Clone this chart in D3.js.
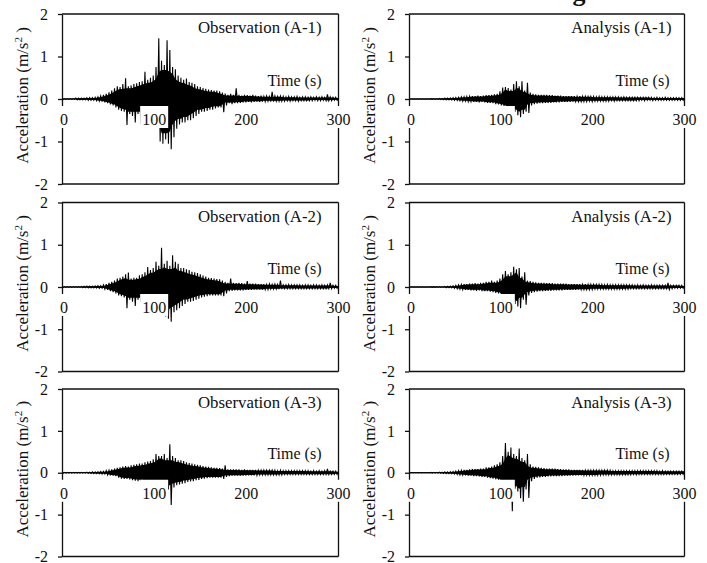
<!DOCTYPE html>
<html><head><meta charset="utf-8">
<script src="https://cdn.jsdelivr.net/npm/d3@7"></script>
<style>
html,body{margin:0;padding:0;background:#fff;}
svg{display:block;font-family:"Liberation Serif","Times New Roman",serif;}
</style>
</head><body>
<svg id="chart" width="707" height="563"></svg>
<script>
// Envelope peaks (m/s^2) read from the records, one sample every 3 s from 0 to 300 s
const timeStep = 3;

const obsA1Upper = [
 0.01,0.01,0.01,0.01,0.01,0.02,0.02,0.02,0.02,0.03,
 0.03,0.03,0.04,0.05,0.07,0.1,0.12,0.16,0.2,0.25,
 0.3,0.28,0.35,0.49,0.3,0.32,0.35,0.37,0.4,0.42,
 0.64,0.45,0.5,0.55,0.75,1.43,0.9,0.8,1.38,1.15,
 0.75,0.7,0.55,0.5,0.45,0.48,0.4,0.38,0.35,0.3,
 0.28,0.26,0.24,0.22,0.21,0.2,0.2,0.18,0.15,0.13,
 0.1,0.12,0.1,0.25,0.1,0.08,0.1,0.09,0.08,0.1,
 0.08,0.07,0.08,0.06,0.07,0.06,0.17,0.07,0.06,0.07,
 0.06,0.05,0.06,0.05,0.05,0.06,0.04,0.05,0.05,0.04,
 0.05,0.04,0.05,0.04,0.05,0.04,0.11,0.05,0.04,0.04,
 0.03];
const obsA1Lower = [
 -0.01,-0.01,-0.01,-0.01,-0.01,-0.02,-0.02,-0.02,-0.02,-0.03,
 -0.03,-0.03,-0.04,-0.05,-0.06,-0.08,-0.1,-0.13,-0.15,-0.2,
 -0.25,-0.28,-0.3,-0.61,-0.35,-0.4,-0.55,-0.35,-0.6,-0.4,
 -0.35,-0.45,-0.45,-0.5,-0.6,-1.0,-1.05,-0.95,-1.05,-1.18,
 -0.9,-0.7,-0.6,-0.55,-0.55,-0.5,-0.5,-0.45,-0.4,-0.35,
 -0.3,-0.3,-0.28,-0.25,-0.25,-0.22,-0.2,-0.2,-0.31,-0.15,
 -0.1,-0.12,-0.1,-0.1,-0.09,-0.08,-0.08,-0.07,-0.08,-0.07,
 -0.06,-0.07,-0.06,-0.06,-0.05,-0.06,-0.06,-0.05,-0.05,-0.05,
 -0.05,-0.04,-0.05,-0.04,-0.04,-0.05,-0.04,-0.04,-0.04,-0.04,
 -0.04,-0.03,-0.04,-0.04,-0.03,-0.04,-0.04,-0.04,-0.03,-0.03,
 -0.02];

const anaA1Upper = [
 0.005,0.005,0.005,0.005,0.005,0.005,0.005,0.005,0.008,0.01,
 0.01,0.012,0.015,0.02,0.02,0.025,0.03,0.035,0.04,0.05,
 0.05,0.06,0.06,0.07,0.07,0.08,0.07,0.08,0.09,0.09,
 0.1,0.11,0.12,0.18,0.27,0.28,0.26,0.22,0.35,0.42,
 0.3,0.42,0.2,0.38,0.15,0.12,0.11,0.1,0.1,0.1,
 0.1,0.09,0.09,0.08,0.08,0.08,0.07,0.07,0.07,0.07,
 0.07,0.06,0.07,0.06,0.06,0.06,0.06,0.06,0.05,0.06,
 0.05,0.05,0.05,0.05,0.05,0.05,0.05,0.04,0.05,0.04,
 0.04,0.04,0.04,0.04,0.04,0.04,0.04,0.04,0.04,0.03,
 0.04,0.03,0.03,0.04,0.03,0.03,0.03,0.03,0.03,0.03,
 0.03];
const anaA1Lower = [
 -0.005,-0.005,-0.005,-0.005,-0.005,-0.005,-0.005,-0.005,-0.008,-0.01,
 -0.01,-0.012,-0.015,-0.02,-0.02,-0.025,-0.03,-0.035,-0.04,-0.05,
 -0.05,-0.06,-0.06,-0.07,-0.07,-0.08,-0.07,-0.08,-0.09,-0.09,
 -0.1,-0.12,-0.13,-0.15,-0.18,-0.2,-0.22,-0.25,-0.3,-0.38,
 -0.43,-0.35,-0.3,-0.33,-0.15,-0.12,-0.11,-0.1,-0.1,-0.09,
 -0.09,-0.09,-0.08,-0.08,-0.08,-0.07,-0.07,-0.07,-0.07,-0.06,
 -0.06,-0.06,-0.06,-0.06,-0.06,-0.05,-0.06,-0.05,-0.05,-0.05,
 -0.05,-0.05,-0.05,-0.04,-0.05,-0.04,-0.04,-0.04,-0.04,-0.04,
 -0.04,-0.04,-0.04,-0.04,-0.03,-0.04,-0.03,-0.03,-0.04,-0.03,
 -0.03,-0.03,-0.03,-0.03,-0.03,-0.03,-0.03,-0.03,-0.03,-0.03,
 -0.02];

const obsA2Upper = [
 0.01,0.01,0.01,0.01,0.01,0.01,0.01,0.015,0.015,0.02,
 0.02,0.02,0.025,0.03,0.03,0.05,0.07,0.1,0.12,0.15,
 0.2,0.22,0.25,0.3,0.34,0.2,0.22,0.22,0.28,0.3,
 0.35,0.47,0.4,0.45,0.6,0.5,0.93,0.55,0.62,0.5,
 0.75,0.6,0.55,0.45,0.45,0.42,0.4,0.36,0.35,0.33,
 0.3,0.27,0.25,0.22,0.21,0.2,0.19,0.18,0.15,0.12,
 0.1,0.2,0.1,0.09,0.1,0.09,0.08,0.14,0.08,0.08,
 0.08,0.07,0.07,0.07,0.06,0.07,0.06,0.07,0.06,0.15,
 0.05,0.05,0.06,0.05,0.05,0.05,0.05,0.04,0.05,0.05,
 0.04,0.05,0.05,0.04,0.05,0.04,0.05,0.1,0.04,0.04,
 0.03];
const obsA2Lower = [
 -0.01,-0.01,-0.01,-0.01,-0.01,-0.01,-0.01,-0.015,-0.015,-0.02,
 -0.02,-0.02,-0.025,-0.03,-0.03,-0.05,-0.07,-0.1,-0.12,-0.15,
 -0.2,-0.22,-0.25,-0.5,-0.3,-0.35,-0.45,-0.3,-0.35,-0.33,
 -0.35,-0.38,-0.4,-0.45,-0.5,-0.55,-0.6,-0.7,-0.75,-0.82,
 -0.6,-0.55,-0.5,-0.45,-0.4,-0.35,-0.35,-0.33,-0.3,-0.28,
 -0.25,-0.23,-0.22,-0.2,-0.2,-0.2,-0.2,-0.2,-0.22,-0.15,
 -0.1,-0.09,-0.08,-0.08,-0.08,-0.08,-0.07,-0.07,-0.07,-0.06,
 -0.06,-0.06,-0.06,-0.06,-0.06,-0.05,-0.05,-0.05,-0.05,-0.05,
 -0.04,-0.04,-0.04,-0.04,-0.04,-0.04,-0.04,-0.04,-0.04,-0.04,
 -0.04,-0.04,-0.04,-0.04,-0.04,-0.04,-0.04,-0.04,-0.03,-0.03,
 -0.03];

const anaA2Upper = [
 0.005,0.005,0.005,0.005,0.005,0.005,0.005,0.005,0.008,0.008,
 0.01,0.01,0.01,0.015,0.015,0.02,0.03,0.04,0.05,0.06,
 0.07,0.07,0.08,0.08,0.09,0.08,0.1,0.1,0.12,0.12,
 0.15,0.12,0.15,0.2,0.3,0.38,0.3,0.35,0.48,0.42,
 0.45,0.25,0.35,0.15,0.14,0.12,0.11,0.1,0.1,0.1,
 0.09,0.09,0.09,0.08,0.08,0.08,0.08,0.08,0.07,0.07,
 0.07,0.07,0.07,0.06,0.07,0.06,0.06,0.06,0.06,0.06,
 0.06,0.05,0.06,0.05,0.05,0.05,0.05,0.05,0.05,0.05,
 0.05,0.05,0.04,0.05,0.04,0.05,0.04,0.04,0.05,0.04,
 0.04,0.04,0.04,0.04,0.1,0.04,0.04,0.04,0.04,0.04,
 0.03];
const anaA2Lower = [
 -0.005,-0.005,-0.005,-0.005,-0.005,-0.005,-0.005,-0.005,-0.008,-0.008,
 -0.01,-0.01,-0.01,-0.015,-0.015,-0.02,-0.03,-0.04,-0.05,-0.06,
 -0.07,-0.07,-0.08,-0.08,-0.09,-0.08,-0.1,-0.1,-0.1,-0.11,
 -0.12,-0.14,-0.15,-0.2,-0.22,-0.3,-0.35,-0.3,-0.4,-0.46,
 -0.5,-0.3,-0.42,-0.2,-0.14,-0.12,-0.11,-0.1,-0.1,-0.09,
 -0.09,-0.09,-0.08,-0.08,-0.08,-0.08,-0.07,-0.07,-0.07,-0.07,
 -0.07,-0.06,-0.06,-0.06,-0.06,-0.06,-0.06,-0.05,-0.05,-0.05,
 -0.05,-0.05,-0.05,-0.05,-0.05,-0.05,-0.05,-0.05,-0.05,-0.05,
 -0.04,-0.04,-0.04,-0.04,-0.04,-0.04,-0.04,-0.04,-0.04,-0.04,
 -0.04,-0.04,-0.04,-0.04,-0.06,-0.04,-0.03,-0.03,-0.03,-0.03,
 -0.03];

const obsA3Upper = [
 0.01,0.01,0.01,0.01,0.01,0.01,0.01,0.01,0.01,0.015,
 0.015,0.02,0.02,0.025,0.03,0.03,0.05,0.06,0.08,0.1,
 0.12,0.13,0.15,0.16,0.15,0.18,0.19,0.2,0.22,0.22,
 0.25,0.27,0.28,0.32,0.45,0.4,0.4,0.45,0.35,0.68,
 0.4,0.35,0.3,0.3,0.28,0.25,0.23,0.22,0.2,0.19,
 0.18,0.16,0.15,0.14,0.13,0.12,0.12,0.11,0.1,0.18,
 0.08,0.08,0.08,0.08,0.08,0.07,0.08,0.07,0.07,0.07,
 0.07,0.06,0.06,0.06,0.06,0.06,0.06,0.06,0.05,0.06,
 0.05,0.05,0.05,0.05,0.05,0.05,0.05,0.05,0.05,0.05,
 0.04,0.05,0.04,0.05,0.04,0.05,0.09,0.04,0.04,0.04,
 0.03];
const obsA3Lower = [
 -0.01,-0.01,-0.01,-0.01,-0.01,-0.01,-0.01,-0.01,-0.01,-0.015,
 -0.015,-0.02,-0.02,-0.025,-0.03,-0.03,-0.05,-0.06,-0.07,-0.08,
 -0.12,-0.14,-0.15,-0.15,-0.16,-0.18,-0.19,-0.2,-0.2,-0.22,
 -0.25,-0.26,-0.28,-0.3,-0.32,-0.32,-0.3,-0.35,-0.4,-0.77,
 -0.35,-0.3,-0.28,-0.26,-0.25,-0.22,-0.21,-0.2,-0.18,-0.17,
 -0.15,-0.14,-0.13,-0.12,-0.12,-0.12,-0.12,-0.12,-0.15,-0.1,
 -0.08,-0.07,-0.07,-0.07,-0.07,-0.07,-0.07,-0.06,-0.06,-0.06,
 -0.06,-0.05,-0.05,-0.05,-0.05,-0.05,-0.05,-0.05,-0.05,-0.05,
 -0.04,-0.04,-0.04,-0.04,-0.04,-0.04,-0.04,-0.04,-0.04,-0.04,
 -0.04,-0.04,-0.04,-0.04,-0.04,-0.04,-0.04,-0.04,-0.04,-0.04,
 -0.03];

const anaA3Upper = [
 0.005,0.005,0.005,0.005,0.005,0.005,0.005,0.005,0.008,0.01,
 0.01,0.012,0.015,0.02,0.02,0.025,0.03,0.04,0.05,0.055,
 0.07,0.07,0.08,0.09,0.09,0.09,0.1,0.1,0.13,0.13,
 0.15,0.18,0.2,0.25,0.4,0.71,0.5,0.6,0.45,0.4,
 0.58,0.35,0.3,0.45,0.2,0.15,0.14,0.13,0.12,0.11,
 0.1,0.1,0.1,0.1,0.09,0.09,0.08,0.08,0.08,0.07,
 0.07,0.07,0.07,0.07,0.06,0.06,0.06,0.06,0.06,0.06,
 0.06,0.06,0.06,0.06,0.05,0.05,0.05,0.05,0.05,0.05,
 0.05,0.05,0.05,0.05,0.05,0.05,0.05,0.05,0.05,0.05,
 0.05,0.04,0.05,0.04,0.04,0.04,0.04,0.04,0.04,0.04,
 0.04];
const anaA3Lower = [
 -0.005,-0.005,-0.005,-0.005,-0.005,-0.005,-0.005,-0.005,-0.008,-0.01,
 -0.01,-0.012,-0.015,-0.02,-0.02,-0.025,-0.03,-0.04,-0.05,-0.055,
 -0.06,-0.07,-0.07,-0.08,-0.08,-0.09,-0.1,-0.1,-0.12,-0.13,
 -0.14,-0.16,-0.18,-0.25,-0.25,-0.28,-0.3,-0.92,-0.38,-0.45,
 -0.61,-0.69,-0.4,-0.6,-0.2,-0.15,-0.12,-0.11,-0.1,-0.1,
 -0.09,-0.09,-0.08,-0.08,-0.08,-0.08,-0.07,-0.07,-0.07,-0.07,
 -0.06,-0.06,-0.06,-0.06,-0.06,-0.06,-0.06,-0.06,-0.06,-0.06,
 -0.05,-0.05,-0.05,-0.05,-0.05,-0.05,-0.05,-0.05,-0.05,-0.05,
 -0.05,-0.04,-0.05,-0.04,-0.04,-0.04,-0.04,-0.04,-0.04,-0.04,
 -0.04,-0.04,-0.04,-0.04,-0.04,-0.04,-0.04,-0.04,-0.04,-0.04,
 -0.03];

const xTickValues = [0, 100, 200, 300];
const yTickValues = [2, 1, 0, -1, -2];
const panelTitles = ["Observation (A-1)", "Analysis (A-1)",
                     "Observation (A-2)", "Analysis (A-2)",
                     "Observation (A-3)", "Analysis (A-3)"];
const xAxisTitle = "Time (s)";

const series = [
  {upper: obsA1Upper, lower: obsA1Lower}, {upper: anaA1Upper, lower: anaA1Lower},
  {upper: obsA2Upper, lower: obsA2Lower}, {upper: anaA2Upper, lower: anaA2Lower},
  {upper: obsA3Upper, lower: obsA3Lower}, {upper: anaA3Upper, lower: anaA3Lower}
];

// layout
const FONT = "'Liberation Serif', 'Times New Roman', Times, serif";
const cols = [{x0: 62, x1: 338.5, titleInset: 17, timeInset: 17},
              {x0: 409, x1: 684.5, titleInset: 13, timeInset: 15}];
const rows = [{top: 14, bottom: 184}, {top: 202.5, bottom: 371.5}, {top: 389, bottom: 556.5}];

const svg = d3.select("#chart");
const ink = "#111";

// cut-off heading fragment at top of the page
svg.append("text").attr("x", 579).attr("y", 1).attr("text-anchor", "middle")
  .attr("font-family", FONT).attr("font-size", 26).attr("font-weight", "bold").attr("fill", ink).text("g");

// solid core of the record: smallest neighbouring peak, so isolated spikes stay thin lines
function core(arr, i, sign) {
  const a = arr[Math.max(0, i - 1)], b = arr[i], c = arr[Math.min(arr.length - 1, i + 1)];
  return sign > 0 ? Math.min(a, b, c) * 0.85 : Math.max(a, b, c) * 0.85;
}

series.forEach((s, k) => {
  const c = cols[k % 2], r = rows[Math.floor(k / 2)];
  const x = d3.scaleLinear().domain([0, 300]).range([c.x0, c.x1]);
  const y = d3.scaleLinear().domain([-2, 2]).range([r.bottom, r.top]);
  const g = svg.append("g");

  // frame
  const frame = g.append("g").attr("stroke", ink).attr("stroke-width", 1.3);
  frame.append("line").attr("x1", x(0)).attr("x2", x(300)).attr("y1", y(2)).attr("y2", y(2));
  frame.append("line").attr("x1", x(0)).attr("x2", x(300)).attr("y1", y(-2)).attr("y2", y(-2));
  frame.append("line").attr("x1", x(300)).attr("x2", x(300)).attr("y1", y(2)).attr("y2", y(-2));
  frame.append("line").attr("x1", x(0)).attr("x2", x(300)).attr("y1", y(0)).attr("y2", y(0)).attr("stroke-width", 1);

  const clipId = "clip" + k;
  g.append("clipPath").attr("id", clipId).append("rect")
    .attr("x", x(0)).attr("y", y(2)).attr("width", x(300) - x(0)).attr("height", y(-2) - y(2));
  const sig = g.append("g").attr("clip-path", `url(#${clipId})`);

  sig.append("path")
    .attr("d", d3.area()
      .x((d, i) => x(i * timeStep))
      .y1((d, i) => y(core(s.upper, i, 1)))
      .y0((d, i) => y(core(s.lower, i, -1)))(s.upper))
    .attr("fill", "#000");

  // oscillation (zig-zag between read upper and lower peaks)
  const pts = [];
  s.upper.forEach((u, i) => {
    const t = i * timeStep;
    pts.push([t, u]);
    pts.push([Math.min(t + timeStep / 2, 300), s.lower[i]]);
  });
  sig.append("path")
    .attr("d", d3.line().x(d => x(d[0])).y(d => y(d[1]))(pts))
    .attr("fill", "none").attr("stroke", "#000").attr("stroke-width", 1.1);

  // y axis
  const ya = g.append("g").attr("transform", `translate(${x(0)},0)`)
    .call(d3.axisLeft(y).tickValues(yTickValues).tickSize(4).tickSizeOuter(0).tickPadding(10)
      .tickFormat(d => String(d)));
  ya.attr("font-family", FONT).attr("font-size", 16);
  ya.selectAll("path,line").attr("stroke", ink).attr("stroke-width", 1.3);
  ya.selectAll("text").attr("fill", ink).attr("font-family", FONT);

  // x tick labels with white boxes
  xTickValues.forEach(v => {
    const tg = g.append("g");
    const baseline = y(0) + 26;
    const t = tg.append("text").attr("x", x(v) + (v === 0 ? 2 : 0)).attr("y", baseline)
      .attr("text-anchor", "middle").attr("font-family", FONT).attr("font-size", 16)
      .attr("fill", ink).text(String(v));
    const bb = t.node().getBBox();
    tg.insert("rect", "text").attr("x", bb.x - 2).attr("y", baseline - 19)
      .attr("width", bb.width + 4).attr("height", 22).attr("fill", "#fff");
  });

  // titles
  g.append("text").attr("x", x(300) - c.titleInset).attr("y", r.top + 19)
    .attr("text-anchor", "end").attr("font-family", FONT).attr("font-size", 16.8)
    .attr("fill", ink).text(panelTitles[k]);
  g.append("text").attr("x", x(300) - c.timeInset).attr("y", y(0) - 13.5)
    .attr("text-anchor", "end").attr("font-family", FONT).attr("font-size", 16)
    .attr("fill", ink).text(xAxisTitle);

  // y axis title
  const yt = g.append("text").attr("transform", `translate(${x(0) - 34},${y(0) - 3.5}) rotate(-90)`)
    .attr("text-anchor", "middle").attr("font-family", FONT).attr("font-size", 17).attr("fill", ink);
  yt.append("tspan").text("Acceleration (m/s");
  yt.append("tspan").attr("dy", -6).attr("font-size", 11).text("2");
  yt.append("tspan").attr("dy", 6).text(" )");
});
</script>
</body></html>
